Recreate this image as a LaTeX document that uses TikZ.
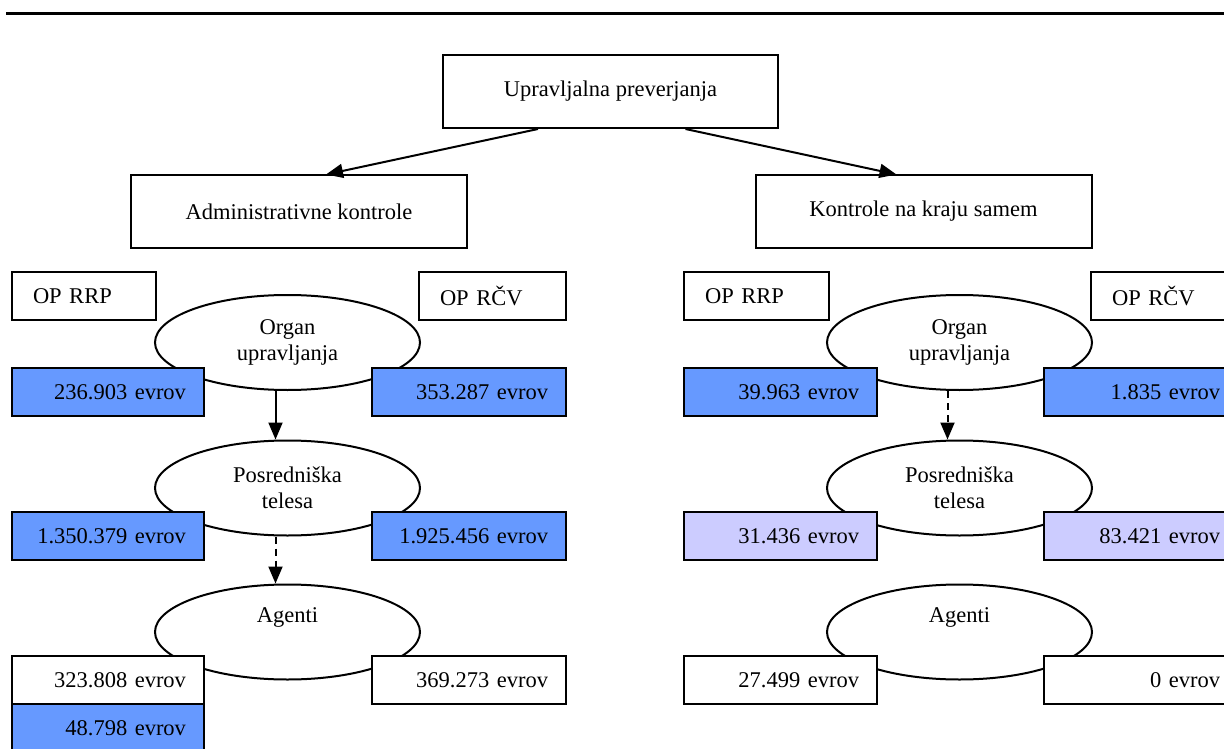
\documentclass[tikz,border=0pt]{standalone}
\usepackage{fontspec}
\setmainfont{Liberation Serif}
\usetikzlibrary{shapes.geometric,arrows.meta}
\definecolor{valblue}{RGB}{102,153,255}
\definecolor{vallilac}{RGB}{204,204,255}
\tikzset{
  headbox/.style={draw,fill=white,minimum width=336,minimum height=72,inner sep=0},
  opbox/.style={draw,fill=white,minimum height=48,inner xsep=21,inner ysep=0,align=left,anchor=west},
  valbox/.style={draw,minimum height=48,inner xsep=18,inner ysep=0,align=right,anchor=west},
  bodyell/.style={draw,fill=white,ellipse,minimum width=265,minimum height=95,inner sep=0,align=center},
  arr/.style={-{Triangle[length=17pt,width=14pt]}},
  dasharr/.style={arr,dash pattern=on 7pt off 5pt}
}

\begin{document}
\begin{tikzpicture}[x=1pt,y=-1pt,line width=2pt,font=\fontsize{22.5}{26}\selectfont]
\clip (0,0) rectangle (1224,749);

%Straight Lines
\draw [line width=3.5pt]   (6,13.5) -- (1224,13.5) ;

% Text Node
\node [headbox,minimum width=335,minimum height=73] (top) at (610.5,91.5) {Upravljalna preverjanja};
% Text Node
\node [headbox] (adm) at (299,211.5) {Administrativne kontrole};
% Text Node
\node [headbox] (kon) at (923.5,211.5) {Kontrole na kraju samem};

%Shape: Ellipse
\node [bodyell] (lorg) at (287.5,342.5) {Organ\\upravljanja};
\node [bodyell] (lpos) at (287.5,488) {Posredniška\\telesa};
\node [bodyell] (lagt) at (287.5,632) {Agenti\\\strut};
%Shape: Ellipse
\node [bodyell] (rorg) at (959.5,342.5) {Organ\\upravljanja};
\node [bodyell] (rpos) at (959.5,488) {Posredniška\\telesa};
\node [bodyell] (ragt) at (959.5,632) {Agenti\\\strut};

% Text Node
\node [opbox,text width=102] (lrrp) at (11,296) {OP RRP};
\node [opbox,text width=105] (lrcv) at (418,296) {OP RČV};
\node [opbox,text width=103] (rrrp) at (683,296) {OP RRP};
\node [opbox,text width=105] (rrcv) at (1090,296) {OP RČV};

% Text Node
\node [valbox,fill=valblue,text width=156] (lorgA) at (11,392) {236.903 evrov};
\node [valbox,fill=valblue,text width=158] (lorgB) at (371,392) {353.287 evrov};
\node [valbox,fill=valblue,text width=156] (lposA) at (11,536) {1.350.379 evrov};
\node [valbox,fill=valblue,text width=158] (lposB) at (371,536) {1.925.456 evrov};
\node [valbox,fill=white,text width=156] (lagtA) at (11,680) {323.808 evrov};
\node [valbox,fill=white,text width=158] (lagtB) at (371,680) {369.273 evrov};
\node [valbox,fill=valblue,text width=156] (lagtC) at (11,728) {48.798 evrov};

% Text Node
\node [valbox,fill=valblue,text width=157] (rorgA) at (683,392) {39.963 evrov};
\node [valbox,fill=valblue,text width=158] (rorgB) at (1043,392) {1.835 evrov};
\node [valbox,fill=vallilac,text width=157] (rposA) at (683,536) {31.436 evrov};
\node [valbox,fill=vallilac,text width=158] (rposB) at (1043,536) {83.421 evrov};
\node [valbox,fill=white,text width=157] (ragtA) at (683,680) {27.499 evrov};
\node [valbox,fill=white,text width=158] (ragtB) at (1043,680) {0 evrov};

%Straight Lines
\draw [arr]   ([xshift=-72.5]top.south) -- ([xshift=27]adm.north) ;
\draw [arr]   ([xshift=75]top.south) -- ([xshift=-27]kon.north) ;
\draw [arr]   ([xshift=-12]lorg.south) -- ([xshift=-12]lpos.north) ;
\draw [dasharr]   ([xshift=-12]lpos.south) -- ([xshift=-12]lagt.north) ;
\draw [dasharr]   ([xshift=-12]rorg.south) -- ([xshift=-12]rpos.north) ;

\end{tikzpicture}
\end{document}
